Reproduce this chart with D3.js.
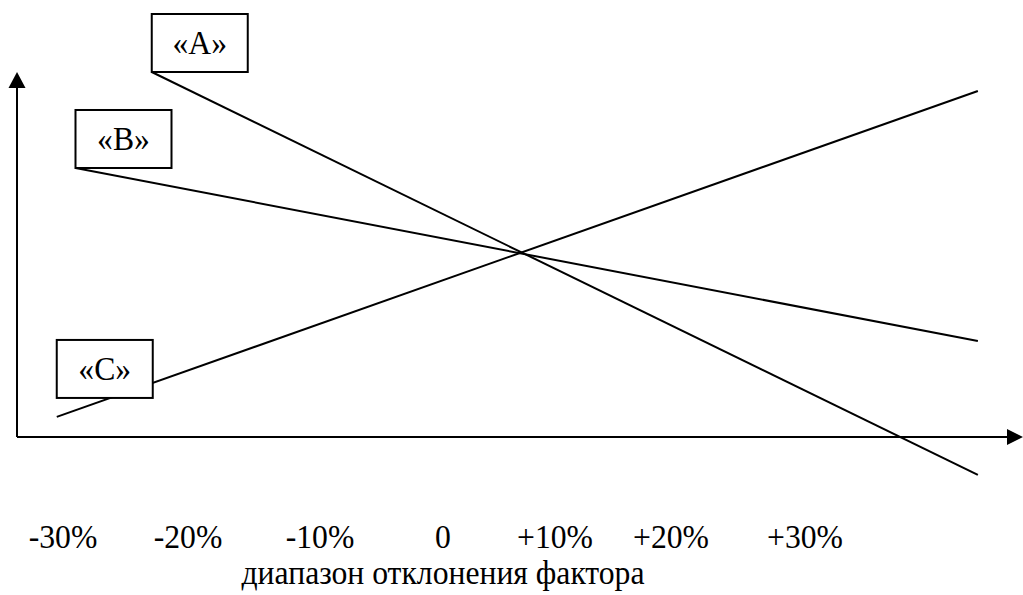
<!DOCTYPE html>
<html>
<head>
<meta charset="utf-8">
<script src="https://cdn.jsdelivr.net/npm/d3@7/dist/d3.min.js"></script>
<style>
  html, body { margin: 0; padding: 0; background: #fff; }
  svg { display: block; }
  text { font-family: "Liberation Serif", "Times New Roman", serif; fill: #000; }
</style>
</head>
<body>
<svg id="chart" width="1023" height="595"></svg>
<script>
// ---- data ----
const tickValues = [-30, -20, -10, 0, 10, 20, 30];
const tickLabels = ["-30%", "-20%", "-10%", "0", "+10%", "+20%", "+30%"];
const axisTitle = "диапазон отклонения фактора";
const seriesNames = ["«A»", "«B»", "«C»"];
// each line: [start, end] as [factor deviation %, result index]
const lineA = [[-22.9, 100], [42.9, -10.4]];
const lineB = [[-29.0, 73.7], [42.9, 26.3]];
const lineC = [[-30.5, 5.5], [42.9, 94.8]];
// where each label box is pinned (its lower-left corner)
const labelA = [-22.9, 100];
const labelB = [-29.0, 73.7];
const labelC = [-30.5, 10.7];

// ---- layout ----
const svg = d3.select("#chart");
const axisLeft = 17, axisRight = 1023;
const x = d3.scaleLinear().domain(tickValues).range([63, 188, 320, 443, 555, 671, 805]);
const y = d3.scaleLinear().domain([0, 100]).range([437, 72]);
const fontSize = 33;
const sx = 0.96;
const boxW = 96, boxH = 58;

function addText(g, tx, ty, str) {
  return g.append("text")
    .attr("transform", `translate(${tx},${ty}) scale(${sx},1)`)
    .attr("text-anchor", "middle").attr("font-size", fontSize).text(str);
}

// axes
const y0 = y(0);
svg.append("line").attr("x1", axisLeft).attr("x2", axisRight - 14)
  .attr("y1", y0).attr("y2", y0).attr("stroke", "#000").attr("stroke-width", 2);
svg.append("path")
  .attr("d", `M${axisRight},${y0} L${axisRight - 16},${y0 - 8} L${axisRight - 16},${y0 + 8} Z`)
  .attr("fill", "#000");
svg.append("line").attr("x1", axisLeft).attr("x2", axisLeft)
  .attr("y1", y0).attr("y2", y(100) + 14).attr("stroke", "#000").attr("stroke-width", 2);
svg.append("path")
  .attr("d", `M${axisLeft},${y(100)} L${axisLeft - 8.5},${y(100) + 16} L${axisLeft + 8.5},${y(100) + 16} Z`)
  .attr("fill", "#000");

// lines
const lineGen = d3.line().x(d => x(d[0])).y(d => y(d[1]));
[lineA, lineB, lineC].forEach(l => {
  svg.append("path").attr("d", lineGen(l)).attr("fill", "none")
    .attr("stroke", "#000").attr("stroke-width", 2);
});

// label boxes
[labelA, labelB, labelC].forEach((p, i) => {
  const bx = x(p[0]), by = y(p[1]) - boxH;
  svg.append("rect").attr("x", bx).attr("y", by).attr("width", boxW).attr("height", boxH)
    .attr("fill", "#fff").attr("stroke", "#000").attr("stroke-width", 2);
  addText(svg, bx + boxW / 2, by + boxH / 2 + fontSize * 0.33, seriesNames[i]);
});

// tick labels
const tg = svg.append("g");
tickValues.forEach((d, i) => addText(tg, x(d), 548, tickLabels[i]));

// axis title
addText(svg, x(0), 584, axisTitle);
</script>
</body>
</html>
